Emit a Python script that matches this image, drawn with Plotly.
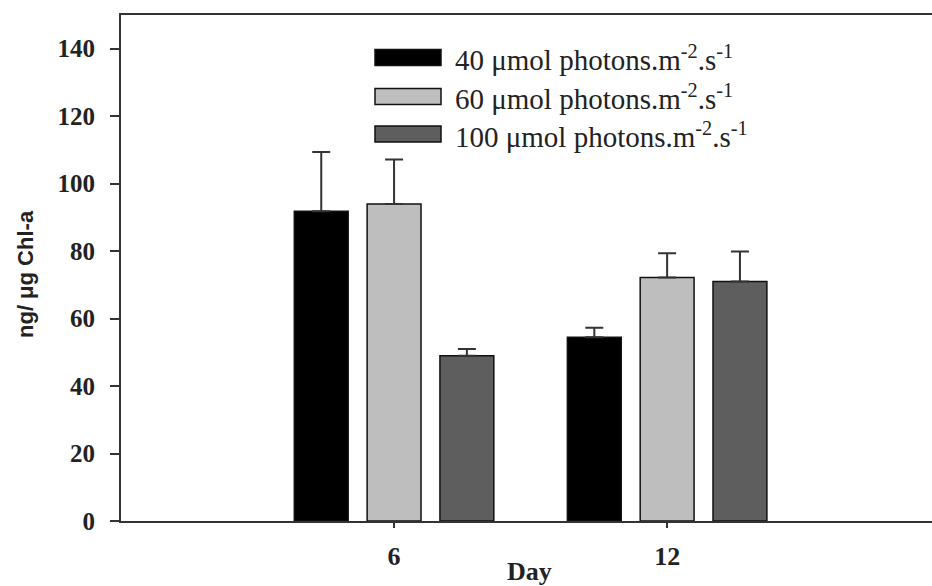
import plotly.graph_objects as go

# Sampling days and treatment series
days = ["6", "12"]
series_names = [
    "40 μmol photons.m<sup>-2</sup>.s<sup>-1</sup>",
    "60 μmol photons.m<sup>-2</sup>.s<sup>-1</sup>",
    "100 μmol photons.m<sup>-2</sup>.s<sup>-1</sup>",
]
light_40 = [91.8, 54.5]
light_60 = [94.0, 72.2]
light_100 = [49.0, 71.0]
err_40 = [17.6, 2.8]
err_60 = [13.2, 7.2]
err_100 = [2.0, 8.9]
y_ticks = [0, 20, 40, 60, 80, 100, 120, 140]

values = [light_40, light_60, light_100]
errors = [err_40, err_60, err_100]
fills = ["#000000", "#bebebe", "#5e5e5e"]

W, H = 932, 586
L, R, T, B = 121, 0, 15, 65
pw, ph = W - L - R, H - T - B


def px_x(px):
    return (px - L) / pw


def px_y(py):
    return (H - B - py) / ph


fig = go.Figure()
for name, vals, errs, col in zip(series_names, values, errors, fills):
    fig.add_trace(go.Bar(
        x=days, y=vals, name=name,
        marker=dict(color=col, line=dict(color="#111111", width=1.5)),
        error_y=dict(type="data", array=errs, arrayminus=[0] * len(errs),
                     symmetric=False, color="#333333", thickness=2, width=9),
        showlegend=False,
    ))

# Legend drawn by hand so the swatches can be wide rectangles
serif = "Liberation Serif, Times New Roman, serif"
sans = "Liberation Sans, Arial, sans-serif"
legend_rows = [57.5, 96.5, 134]
shapes = []
annotations = []
for name, col, yc in zip(series_names, fills, legend_rows):
    shapes.append(dict(
        type="rect", xref="paper", yref="paper",
        x0=px_x(375), x1=px_x(441), y0=px_y(yc + 8), y1=px_y(yc - 8),
        fillcolor=col, line=dict(color="#111111", width=1.5),
    ))
    annotations.append(dict(
        xref="paper", yref="paper", x=px_x(453), y=px_y(yc + 1),
        xanchor="left", yanchor="middle", showarrow=False, text=name,
        font=dict(family=serif, size=29, color="#222222"),
    ))

# Axis titles
annotations.append(dict(
    xref="paper", yref="paper", x=px_x(529), y=px_y(571),
    xanchor="center", yanchor="middle", showarrow=False, text="<b>Day</b>",
    font=dict(family=serif, size=26, color="#222222"),
))
annotations.append(dict(
    xref="paper", yref="paper", x=px_x(26), y=px_y(274),
    xanchor="center", yanchor="middle", showarrow=False, textangle=-90,
    text="<b>ng/ μg Chl-a</b>",
    font=dict(family=sans, size=22, color="#222222"),
))

fig.update_layout(
    width=W, height=H,
    margin=dict(l=L, r=R, t=T, b=B),
    paper_bgcolor="white", plot_bgcolor="white",
    barmode="group", bargap=0.2, bargroupgap=0.26,
    shapes=shapes, annotations=annotations,
    font=dict(family=serif, color="#222222"),
)
fig.update_xaxes(
    type="category", range=[-1.0, 1.97],
    showline=True, linecolor="#333333", linewidth=2, mirror=True,
    ticks="outside", ticklen=5, tickwidth=1.5, tickcolor="#333333",
    ticklabelstandoff=6,
    tickfont=dict(family=serif, size=26, color="#222222", weight="bold"),
    showgrid=False, zeroline=False,
)
fig.update_yaxes(
    range=[0, 150], tickvals=y_ticks,
    showline=True, linecolor="#333333", linewidth=2, mirror=False,
    ticks="outside", ticklen=9, tickwidth=1.5, tickcolor="#333333",
    ticklabelstandoff=10,
    tickfont=dict(family=serif, size=25, color="#222222", weight="bold"),
    showgrid=False, zeroline=False,
)

fig.write_html("out.html")
